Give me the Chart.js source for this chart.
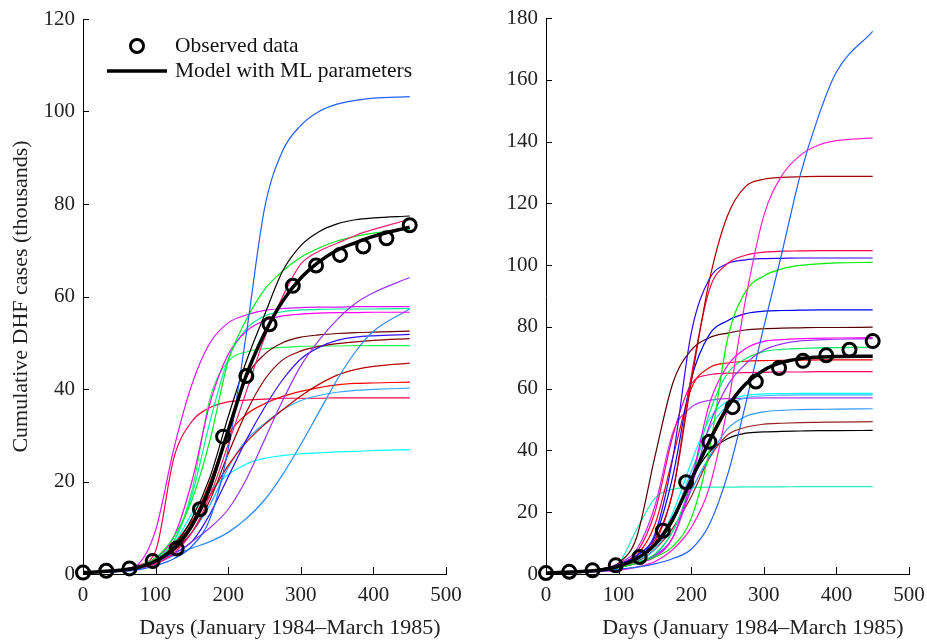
<!DOCTYPE html>
<html>
<head>
<meta charset="utf-8">
<script src="https://cdn.jsdelivr.net/npm/chart.js@4"></script>
<style>
  html, body { margin: 0; padding: 0; background: #fff; }
  #wrap { position: relative; width: 927px; height: 642px; }
  canvas { position: absolute; top: 0; }
</style>
</head>
<body>
<div id="wrap">
  <canvas id="leftChart" width="463" height="642" style="left:0"></canvas>
  <canvas id="rightChart" width="464" height="642" style="left:463px"></canvas>
</div>
<script>
// sample days for the simulated curves
const days = [0, 50, 75, 100, 125, 150, 175, 200, 225, 250, 275, 300, 325, 350, 375, 400, 450];

// observed cumulative cases (thousands)
const obsDays = [0, 32, 64, 96, 129, 161, 193, 225, 257, 289, 321, 354, 386, 418, 450];
const observed = [0.3, 0.7, 1.2, 2.8, 5.5, 14, 29.7, 42.8, 54, 62.3, 66.7, 69, 70.8, 72.6, 75.4];

// left panel
const mlLeft = [0.3, 0.8, 1.4, 2.8, 5.5, 10.5, 19, 31, 43, 52, 59, 64, 67.5, 70, 71.6, 73, 75];
const leftBlue = [0.2, 0.5, 0.9, 1.8, 3.3, 6, 12, 27, 52, 79, 91.5, 97, 100, 101.6, 102.4, 102.9, 103.2];
const leftBlack = [0.3, 0.7, 1.3, 2.8, 6, 12, 21, 34, 46, 56, 65.5, 71, 74, 75.7, 76.6, 77, 77.4];
const leftPink = [0.2, 0.6, 1.1, 2.2, 4.5, 9, 17, 28, 39.5, 51, 60, 67, 69.8, 71.5, 73.2, 74.5, 76.7];
const leftGreen = [0.3, 0.8, 1.5, 3.5, 8, 16, 29, 46, 55, 61.5, 65.5, 68.5, 70.5, 72, 73, 73.7, 74.5];
const leftPurple = [0.2, 0.6, 1.2, 2.3, 4.2, 7, 10, 14, 20.5, 29, 37.5, 45, 50.5, 55, 58.5, 60.8, 64.1];
const leftViolet = [0.3, 0.9, 2, 9.5, 27, 41, 50, 54.3, 56, 57, 57.4, 57.6, 57.7, 57.7, 57.8, 57.8, 57.8];
const leftMagenta = [0.3, 0.8, 1.5, 3.5, 8, 20, 37, 47.5, 52.5, 54.8, 55.8, 56.2, 56.4, 56.5, 56.5, 56.6, 56.6];
const leftTeal = [0.3, 0.8, 1.5, 3.2, 7, 17, 33, 46.5, 53, 55.8, 56.7, 57.1, 57.2, 57.3, 57.3, 57.3, 57.4];
const leftDodger = [0.2, 0.6, 1.2, 2.2, 4, 5.6, 7, 9, 12, 16, 21.5, 28, 35, 42, 48, 52.5, 57.3];
const leftBrown = [0.3, 0.8, 1.5, 3, 5, 10, 18, 31, 42.5, 47.5, 50, 51.2, 51.7, 52, 52.2, 52.3, 52.5];
const leftIndigo = [0.2, 0.7, 1.3, 2.6, 4.5, 7, 13, 21, 29, 36, 42, 46.5, 49, 50.5, 51.2, 51.5, 51.8];
const leftMaroon = [0.3, 0.8, 1.4, 2.8, 5, 9, 16, 26, 35, 42, 46.3, 48.2, 49.2, 49.8, 50.2, 50.5, 50.9];
const leftLime = [0.3, 0.8, 1.6, 3.5, 7, 18, 38, 46, 48, 48.7, 49, 49.2, 49.3, 49.3, 49.4, 49.4, 49.4];
const leftDarkRed = [0.3, 0.8, 1.6, 3.3, 6.5, 11.5, 17, 23.5, 28.5, 32.3, 35.5, 38.5, 41, 43, 44.2, 44.9, 45.6];
const leftRed = [0.3, 0.8, 1.5, 3, 6, 11, 20, 30, 34.5, 36.8, 38.4, 39.5, 40.3, 40.9, 41.2, 41.3, 41.5];
const leftSky = [0.3, 0.8, 1.4, 2.5, 5, 9, 15, 23, 29, 32.5, 35.5, 37.5, 38.6, 39.3, 39.7, 39.9, 40.2];
const leftRose = [0.3, 0.8, 1.8, 5, 25, 33, 36, 37.2, 37.6, 37.8, 38, 38, 38, 38.1, 38.1, 38.1, 38.1];
const leftCyan = [0.3, 0.8, 1.5, 3, 6.5, 13, 18, 21.5, 23.8, 25, 25.6, 26, 26.2, 26.4, 26.5, 26.7, 26.9];

// right panel
const mlRight = [0.3, 0.8, 1.3, 2.5, 5, 9.5, 18, 30.5, 43, 54, 61.5, 66, 68.5, 69.7, 70.2, 70.4, 70.5];
const rightBlue = [0.2, 0.5, 0.9, 1.5, 2.2, 3.3, 5, 8, 16, 32, 55, 80, 104, 129, 148, 162.5, 175.7];
const rightPink = [0.2, 0.5, 0.8, 1.2, 2.2, 4, 8, 15, 28, 54, 89, 116, 129, 135.5, 138.8, 140.3, 141.2];
const rightMaroon = [0.3, 0.8, 1.3, 2.5, 5, 11, 27, 62, 95, 116, 125.5, 127.8, 128.4, 128.6, 128.7, 128.7, 128.7];
const rightRose = [0.3, 0.8, 1.3, 2.5, 5, 10, 27, 64, 92, 100.5, 103.2, 104.2, 104.5, 104.6, 104.7, 104.7, 104.7];
const rightIndigo = [0.3, 0.8, 1.4, 3, 6, 13, 38, 78, 95.5, 100.5, 101.7, 102.1, 102.2, 102.3, 102.3, 102.3, 102.3];
const rightGreen = [0.2, 0.6, 1, 2, 3.5, 5.5, 9, 18, 40, 76, 91.5, 96.5, 98.8, 99.9, 100.4, 100.7, 100.9];
const rightNavy = [0.3, 0.8, 1.4, 3, 6, 12, 32, 63, 77.5, 82, 84.3, 85.1, 85.3, 85.4, 85.5, 85.5, 85.5];
const rightBrown = [0.3, 0.9, 1.6, 3.5, 12, 38, 62, 72.5, 76.5, 78, 79, 79.4, 79.6, 79.7, 79.8, 79.8, 79.9];
const rightMagenta = [0.3, 0.7, 1.2, 2.2, 3.5, 5.5, 12, 30, 55, 67.5, 73, 75.3, 75.9, 76.2, 76.3, 76.4, 76.5];
const rightPurple = [0.3, 0.7, 1.2, 2.2, 3.5, 6, 12, 28, 48, 61, 68, 72.5, 74.5, 75.5, 75.8, 76, 76.2];
const rightSpring = [0.3, 0.7, 1.2, 2.3, 3.8, 6.5, 14, 30, 52, 65, 69.7, 72, 72.7, 73, 73.2, 73.3, 73.4];
const rightRed = [0.3, 0.8, 1.4, 3, 6, 16, 38, 60, 66.8, 68.3, 68.9, 69.1, 69.2, 69.2, 69.3, 69.3, 69.3];
const rightCrimson = [0.3, 0.8, 1.5, 3.2, 7, 20, 45, 61.5, 64.5, 65, 65.2, 65.3, 65.4, 65.4, 65.5, 65.5, 65.5];
const rightCyan = [0.3, 0.8, 1.4, 3, 5, 9, 20, 36, 50, 56, 57.8, 58.3, 58.4, 58.5, 58.5, 58.5, 58.5];
const rightSky = [0.3, 0.8, 1.4, 2.8, 4.5, 8, 18, 33, 47, 54.5, 57, 57.7, 57.9, 58, 58, 58, 58];
const rightViolet = [0.3, 0.8, 1.5, 3.5, 8, 22, 46, 54, 56.2, 56.8, 56.9, 57, 57, 57, 57, 57, 57];
const rightDodger = [0.3, 0.7, 1.2, 2.2, 3.5, 6, 14, 27, 38, 47, 51, 52.5, 53, 53.2, 53.3, 53.4, 53.5];
const rightDarkRed = [0.3, 0.7, 1.2, 2.2, 4, 8, 15, 25, 37.5, 45, 47.5, 48.5, 48.8, 49, 49.1, 49.2, 49.3];
const rightBlack = [0.3, 0.7, 1.3, 2.5, 5, 9, 17, 30.5, 39.5, 43.8, 45.6, 46, 46.2, 46.3, 46.4, 46.4, 46.5];
const rightTeal = [0.3, 0.8, 1.5, 3.5, 14.5, 24.5, 27.5, 28, 28.1, 28.1, 28.2, 28.2, 28.2, 28.3, 28.3, 28.3, 28.3];

const leftCurves = [
    [leftBlue, '#1f5fff'], [leftBlack, '#000000'], [leftPink, '#ff1a75'], [leftGreen, '#00ee22'],
    [leftPurple, '#9933ff'], [leftViolet, '#dd11ff'], [leftMagenta, '#ff00ff'], [leftTeal, '#00ee99'],
    [leftDodger, '#2a8cff'], [leftBrown, '#660000'], [leftIndigo, '#3311ff'], [leftMaroon, '#8b0000'],
    [leftLime, '#22ff55'], [leftDarkRed, '#bb0000'], [leftRed, '#ff0000'], [leftSky, '#33aaff'],
    [leftRose, '#ff0044'], [leftCyan, '#00ffff'],
];
const rightCurves = [
    [rightBlue, '#1f5fff'], [rightPink, '#ff22cc'], [rightMaroon, '#aa0000'], [rightRose, '#ff0044'],
    [rightIndigo, '#3300ff'], [rightGreen, '#00ee00'], [rightNavy, '#0000ee'], [rightBrown, '#550000'],
    [rightMagenta, '#ff00ff'], [rightPurple, '#9933ff'], [rightSpring, '#00ee66'], [rightRed, '#ff0000'],
    [rightCrimson, '#ff0066'], [rightCyan, '#00ffff'], [rightSky, '#33bbff'], [rightViolet, '#bb33ff'],
    [rightDodger, '#3399ff'], [rightDarkRed, '#992222'], [rightBlack, '#000000'], [rightTeal, '#22eebb'],
];

const serif = "'Liberation Serif', 'Times New Roman', serif";
const pts = (xs, ys) => xs.map((x, i) => ({ x: x, y: ys[i] }));

// MATLAB-style ticks pointing into the plot
const inwardTicks = {
    id: 'inwardTicks',
    afterDraw(chart) {
        const { ctx, scales: { x, y } } = chart;
        ctx.save();
        ctx.strokeStyle = '#000';
        ctx.lineWidth = 1;
        ctx.beginPath();
        x.ticks.forEach((t) => {
            const px = Math.round(x.getPixelForValue(t.value)) + 0.5;
            ctx.moveTo(px, x.top);
            ctx.lineTo(px, x.top - 7);
        });
        y.ticks.forEach((t) => {
            const py = Math.round(y.getPixelForValue(t.value)) + 0.5;
            ctx.moveTo(y.right, py);
            ctx.lineTo(y.right + 6, py);
        });
        ctx.stroke();
        ctx.restore();
    },
};

const legendBox = {
    id: 'legendBox',
    afterDraw(chart) {
        const ctx = chart.ctx;
        ctx.save();
        ctx.strokeStyle = '#000';
        ctx.lineWidth = 3;
        ctx.beginPath();
        ctx.arc(137, 46, 6.5, 0, Math.PI * 2);
        ctx.stroke();
        ctx.lineWidth = 3.5;
        ctx.beginPath();
        ctx.moveTo(107, 71);
        ctx.lineTo(167, 71);
        ctx.stroke();
        ctx.fillStyle = '#111';
        ctx.font = '21.5px ' + serif;
        ctx.textBaseline = 'middle';
        ctx.fillText('Observed data', 175, 46);
        ctx.fillText('Model with ML parameters', 175, 71);
        ctx.restore();
    },
};

// invisible tick marks only push the labels away from the axis
const hiddenGrid = (len) => ({
    display: true,
    drawOnChartArea: false,
    drawTicks: true,
    tickLength: len,
    color: 'rgba(0,0,0,0)',
});

function panel(canvas, yMax, top, model, curves, withYTitle) {
    const datasets = [
        {
            data: pts(obsDays, observed),
            showLine: false,
            pointRadius: 6.5,
            borderWidth: 3,
            borderColor: '#000',
            backgroundColor: 'rgba(0,0,0,0)',
            clip: false,
        },
        {
            data: pts(days, model),
            borderColor: '#000',
            borderWidth: 3.5,
            pointRadius: 0,
            cubicInterpolationMode: 'monotone',
        },
    ];
    curves.forEach(([values, color]) => {
        datasets.push({
            data: pts(days, values),
            borderColor: color,
            borderWidth: 1.2,
            pointRadius: 0,
            cubicInterpolationMode: 'monotone',
        });
    });

    return new Chart(canvas, {
        type: 'line',
        data: { datasets: datasets },
        options: {
            responsive: false,
            animation: false,
            layout: { padding: { top: top, right: canvas.width - 446, left: 0, bottom: 0 } },
            plugins: { legend: { display: false }, tooltip: { enabled: false } },
            scales: {
                x: {
                    type: 'linear',
                    min: 0,
                    max: 500,
                    grid: hiddenGrid(9),
                    border: { color: '#000', width: 1 },
                    ticks: { stepSize: 100, color: '#222', padding: 0, font: { family: serif, size: 21 } },
                    title: {
                        display: true,
                        // trailing space keeps the right-aligned title just short of the axis end
                        text: 'Days (January 1984\u2013March 1985) ',
                        align: 'end',
                        color: '#222',
                        font: { family: serif, size: 22 },
                        padding: { top: 0, bottom: 1 },
                    },
                    afterFit: (s) => { s.height = 68; },
                },
                y: {
                    min: 0,
                    max: yMax,
                    grid: hiddenGrid(8),
                    border: { color: '#000', width: 1 },
                    ticks: { stepSize: 20, color: '#222', padding: 0, font: { family: serif, size: 21 } },
                    title: {
                        display: withYTitle,
                        text: 'Cumulative DHF cases (thousands)',
                        color: '#222',
                        font: { family: serif, size: 22 },
                        padding: { top: 8, bottom: 0 },
                    },
                    afterFit: (s) => { s.width = 83; },
                },
            },
        },
        plugins: withYTitle ? [inwardTicks, legendBox] : [inwardTicks],
    });
}

panel(document.getElementById('leftChart'), 120, 19, mlLeft, leftCurves, true);
panel(document.getElementById('rightChart'), 180, 18, mlRight, rightCurves, false);
</script>
</body>
</html>
